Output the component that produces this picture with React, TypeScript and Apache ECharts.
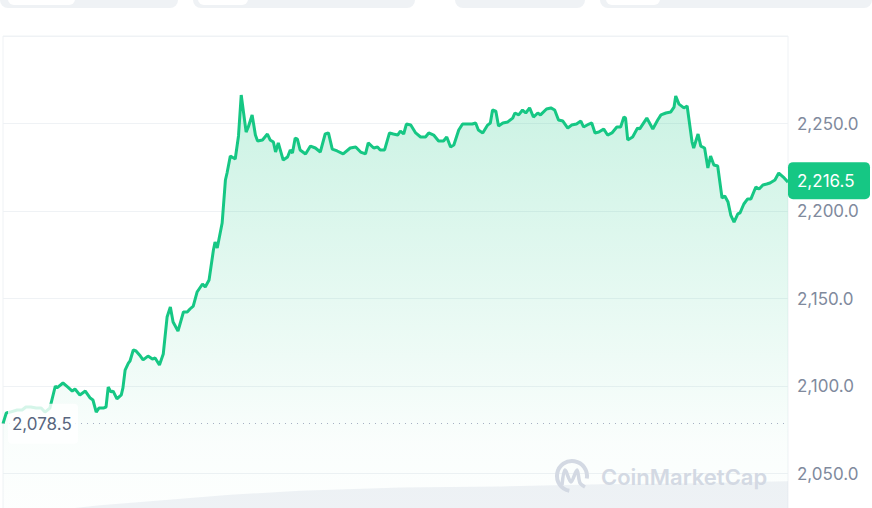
import React, { useEffect, useRef } from "react";
import * as echarts from "echarts";

// minutes since start of the 24h window
const TIMES = [0,6,13,26,35,42,51,61,70,77,86,96,99,110,119,127,132,141,151,160,165,171,176,184,189,193,198,202,209,217,220,224,230,233,239,244,252,257,266,274,279,287,294,301,307,312,321,331,338,343,349,356,366,371,378,386,389,393,402,408,411,417,426,432,437,446,450,457,463,467,476,485,490,496,500,505,514,522,527,531,536,540,545,555,564,573,582,591,597,604,613,624,637,647,656,665,670,680,687,692,700,709,716,724,729,735,740,748,757,766,775,781,790,799,808,814,821,827,836,843,852,861,867,872,880,889,894,898,904,909,917,926,935,939,946,953,959,966,973,981,986,997,1005,1012,1019,1027,1036,1043,1052,1060,1065,1075,1080,1086,1093,1102,1109,1117,1126,1133,1139,1142,1146,1155,1164,1168,1181,1192,1201,1207,1216,1225,1231,1234,1240,1249,1255,1258,1264,1267,1275,1280,1287,1293,1298,1304,1311,1319,1324,1330,1335,1341,1348,1352,1359,1366,1372,1381,1387,1394,1401,1407,1416,1423,1433,1440];

const PRICES = [2078.5,2084.6,2085.1,2086.3,2086.3,2088.0,2088.0,2087.4,2087.4,2085.1,2087.4,2100.0,2098.9,2101.7,2099.4,2097.1,2098.3,2094.9,2097.1,2093.1,2092.0,2085.1,2087.4,2087.4,2088.0,2099.4,2096.6,2097.1,2092.6,2094.9,2098.9,2109.1,2113.1,2114.3,2120.6,2120.0,2117.1,2114.9,2117.1,2115.4,2116.0,2112.0,2118.3,2139.4,2145.1,2136.6,2131.4,2142.3,2142.3,2144.0,2145.7,2153.7,2158.3,2156.6,2160.6,2177.7,2182.3,2178.9,2193.1,2217.7,2221.7,2231.4,2229.7,2242.9,2266.3,2245.1,2248.0,2254.9,2243.4,2240.0,2240.6,2244.0,2240.6,2239.4,2233.7,2238.9,2229.1,2230.9,2234.9,2233.1,2241.7,2241.1,2234.9,2232.6,2237.1,2236.0,2233.7,2244.0,2244.6,2235.4,2234.3,2232.6,2236.0,2236.6,2233.7,2232.6,2238.9,2236.0,2236.6,2234.9,2234.9,2244.6,2244.0,2243.4,2245.7,2244.0,2249.7,2249.1,2244.6,2242.3,2242.3,2244.6,2243.4,2240.0,2240.0,2242.3,2236.6,2237.7,2246.3,2249.7,2249.7,2249.7,2250.3,2246.3,2244.6,2249.1,2250.3,2257.7,2257.1,2248.6,2250.3,2250.9,2253.1,2256.0,2254.9,2257.7,2256.0,2258.9,2253.7,2256.0,2254.9,2258.3,2258.9,2257.7,2252.0,2251.4,2247.4,2249.1,2249.7,2251.4,2248.0,2249.7,2250.3,2244.6,2245.1,2246.9,2243.4,2244.6,2248.0,2248.0,2253.7,2253.1,2240.6,2242.3,2247.4,2246.9,2253.1,2246.9,2252.0,2254.9,2256.0,2256.6,2259.4,2265.7,2261.1,2258.9,2260.0,2253.1,2239.4,2236.0,2244.0,2237.1,2236.0,2224.6,2231.4,2226.3,2225.7,2207.4,2208.6,2205.1,2197.7,2193.7,2198.3,2198.9,2204.0,2206.9,2206.9,2213.7,2212.6,2214.9,2215.4,2216.0,2217.7,2221.7,2218.9,2216.5];

const VOL_TIMES = [0, 86, 178, 270, 417, 545, 729, 913, 1097, 1280, 1440];
const VOLUMES = [43, 48, 53, 57, 63, 67, 70, 71, 73, 74, 76];

const OPEN_PRICE = 2078.5;
const LAST_PRICE = 2216.5;
const Y_MIN = 2000;
const Y_MAX = 2300;
const Y_STEP = 50;

const fmt = (v: number) =>
  v.toLocaleString("en-US", { minimumFractionDigits: 1, maximumFractionDigits: 1 });

export default function App() {
  const ref = useRef<HTMLDivElement>(null);
  useEffect(() => {
    if (!ref.current) return;
    const chart = echarts.init(ref.current, undefined, { renderer: "svg" });
    const priceData = TIMES.map((t, i) => [t, PRICES[i]]);
    const volData = VOL_TIMES.map((t, i) => [t, VOLUMES[i]]);
    chart.setOption({
      animation: false,
      backgroundColor: "#ffffff",
      grid: {
        left: 3,
        right: 84,
        top: 36,
        bottom: 0,
        show: true,
        borderColor: "#eff2f5",
        borderWidth: 1,
        containLabel: false,
        outerBoundsMode: "none",
      },
      xAxis: {
        type: "value",
        min: 0,
        max: 1440,
        show: false,
      },
      yAxis: [
        {
          type: "value",
          position: "right",
          min: Y_MIN,
          max: Y_MAX,
          interval: Y_STEP,
          axisLine: { show: false },
          axisTick: { show: false },
          splitLine: { lineStyle: { color: "#eff2f5", width: 1 } },
          axisLabel: {
            showMaxLabel: false,
            showMinLabel: false,
            margin: 9,
            color: "#808a9d",
            fontFamily: "Inter",
            fontSize: 17,
            formatter: (v: number) => fmt(v),
          },
        },
        { type: "value", min: 0, max: 500, show: false },
      ],
      series: [
        {
          type: "line",
          yAxisIndex: 1,
          data: volData,
          showSymbol: false,
          lineStyle: { width: 0 },
          areaStyle: { color: "rgba(212,218,230,0.5)" },
          z: 1,
          silent: true,
        },
        {
          type: "line",
          data: priceData,
          showSymbol: false,
          smooth: false,
          lineStyle: { color: "#16c784", width: 3 },
          itemStyle: { color: "#16c784" },
          areaStyle: {
            color: new echarts.graphic.LinearGradient(0, 0, 0, 1, [
              { offset: 0, color: "rgba(22,199,132,0.32)" },
              { offset: 0.75, color: "rgba(22,199,132,0.03)" },
              { offset: 1, color: "rgba(22,199,132,0)" },
            ]),
          },
          z: 3,
          markLine: {
            silent: true,
            symbol: "none",
            data: [
              {
                yAxis: OPEN_PRICE,
                lineStyle: { type: [1, 5], color: "#a6b0c3", width: 1.2 },
                label: { show: false },
              },
            ],
          },
        },
      ],
    });

    const yOpen = chart.convertToPixel({ yAxisIndex: 0 }, OPEN_PRICE) as number;
    const yLast = chart.convertToPixel({ yAxisIndex: 0 }, LAST_PRICE) as number;
    const wm = "#d3d9e3";
    chart.setOption({
      graphic: [
        // top cut-off controls
        { type: "rect", shape: { x: 0, y: -12, width: 178, height: 20, r: 8 }, style: { fill: "#eff2f5" } },
        { type: "rect", shape: { x: 8, y: -12, width: 67, height: 17, r: 6 }, style: { fill: "#ffffff" } },
        { type: "rect", shape: { x: 193, y: -12, width: 222, height: 20, r: 8 }, style: { fill: "#eff2f5" } },
        { type: "rect", shape: { x: 198, y: -12, width: 50, height: 17, r: 6 }, style: { fill: "#ffffff" } },
        { type: "rect", shape: { x: 455, y: -12, width: 130, height: 20, r: 8 }, style: { fill: "#eff2f5" } },
        { type: "rect", shape: { x: 600, y: -12, width: 272, height: 20, r: 8 }, style: { fill: "#eff2f5" } },
        { type: "rect", shape: { x: 606, y: -12, width: 54, height: 17, r: 6 }, style: { fill: "#ffffff" } },
        // open price label
        {
          type: "rect",
          z: 100,
          shape: { x: 8, y: yOpen - 20, width: 70, height: 40, r: 4 },
          style: { fill: "rgba(255,255,255,0.82)" },
        },
        {
          type: "text",
          z: 101,
          x: 12,
          y: yOpen,
          style: {
            text: fmt(OPEN_PRICE),
            fill: "#58667e",
            font: "17px Inter",
            textVerticalAlign: "middle",
          },
        },
        // last price tag
        {
          type: "rect",
          z: 100,
          shape: { x: 788, y: yLast - 20, width: 82, height: 37, r: 5 },
          style: { fill: "#16c784" },
        },
        {
          type: "text",
          z: 101,
          x: 797,
          y: yLast - 1.5,
          style: {
            text: fmt(LAST_PRICE),
            fill: "#ffffff",
            font: "17px Inter",
            textVerticalAlign: "middle",
          },
        },
        // watermark
        {
          type: "arc",
          z: 50,
          shape: { cx: 572, cy: 476, r: 15, startAngle: 1.75, endAngle: 6.45 },
          style: { stroke: wm, lineWidth: 4, fill: "none" },
        },
        {
          type: "polyline",
          z: 50,
          shape: {
            points: [[562, 485], [565, 470], [571, 482], [577, 470], [580, 483], [585, 487]],
            smooth: 0.3,
          },
          style: { stroke: wm, lineWidth: 3.5, fill: "none" },
        },
        {
          type: "text",
          z: 50,
          x: 601,
          y: 477,
          style: {
            text: "CoinMarketCap",
            fill: wm,
            font: "600 22px Inter",
            textVerticalAlign: "middle",
          },
        },
      ],
    });
    return () => chart.dispose();
  }, []);
  return (
    <div style={{ position: "fixed", left: 0, top: 0, width: 872, height: 508, overflow: "hidden", background: "#fff" }}>
      <div ref={ref} style={{ width: 872, height: 561 }} />
    </div>
  );
}
